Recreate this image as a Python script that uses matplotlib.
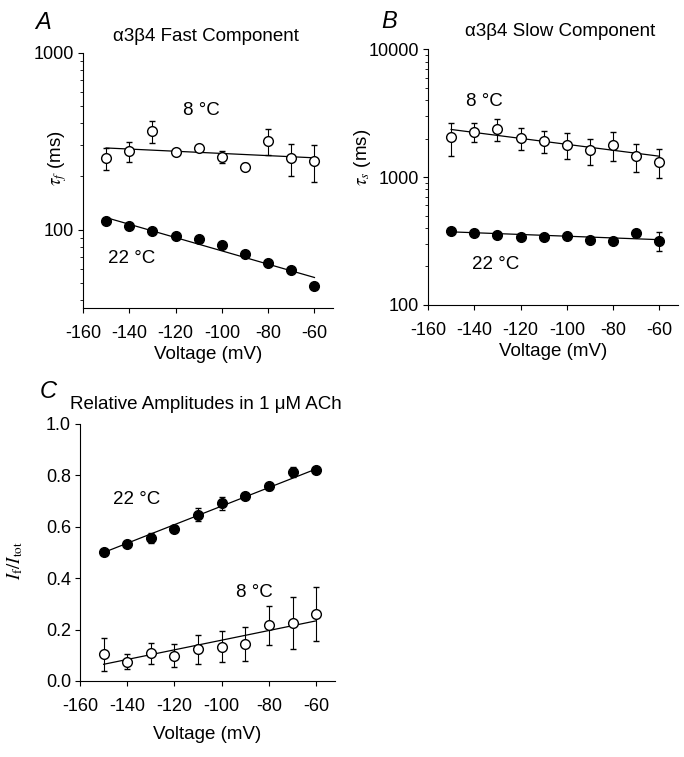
import matplotlib
matplotlib.use("Agg")
import matplotlib.pyplot as plt
from matplotlib import ticker
import numpy as np

plt.rcParams['font.family'] = ['Liberation Sans', 'DejaVu Sans']
plt.rcParams['font.size'] = 13
plt.rcParams['axes.unicode_minus'] = False

voltage = [-150, -140, -130, -120, -110, -100, -90, -80, -70, -60]
fit_v = [-150, -60]

# panel A, fast time constant (ms)
fast_8 = [253, 277, 360, 274, 290, 259, 227, 318, 253, 244]
fast_8_err = [35, 35, 50, 0, 12, 20, 10, 55, 53, 57]
fast_22 = [112, 105, 98.7, 92.5, 88.1, 82.2, 72.8, 64.7, 59.0, 47.9]
fast_8_fit = [290, 255]
fast_22_fit = [117, 53.6]

# panel B, slow time constant (ms)
slow_8 = [2061, 2255, 2370, 2023, 1918, 1796, 1622, 1796, 1455, 1313]
slow_8_err = [600, 380, 450, 400, 380, 420, 370, 450, 350, 330]
slow_22 = [380, 363, 355, 338, 338, 344, 322, 318, 368, 318]
slow_22_err = [0, 0, 0, 0, 0, 0, 0, 0, 0, 55]
slow_8_fit = [2355, 1455]
slow_22_fit = [373, 324]

# panel C, relative amplitude If/Itot
amp_22 = [0.50, 0.532, 0.556, 0.591, 0.647, 0.692, 0.721, 0.757, 0.813, 0.822]
amp_22_err = [0, 0, 0.018, 0, 0.025, 0.025, 0, 0.015, 0.018, 0]
amp_8 = [0.104, 0.075, 0.108, 0.099, 0.123, 0.134, 0.143, 0.216, 0.225, 0.26]
amp_8_err = [0.065, 0.03, 0.04, 0.045, 0.057, 0.06, 0.067, 0.075, 0.1, 0.105]
amp_22_fit = [0.50, 0.825]
amp_8_fit = [0.065, 0.234]

fig = plt.figure(figsize=(6.84, 7.57), dpi=100)
axA = fig.add_axes([0.1213, 0.5931, 0.3655, 0.3369])
axB = fig.add_axes([0.6257, 0.5971, 0.3655, 0.3380])
axC = fig.add_axes([0.1170, 0.1004, 0.3728, 0.3395])


def style(ax, lpad):
    ax.spines['top'].set_visible(False)
    ax.spines['right'].set_visible(False)
    ax.set_xlim(-160, -52)
    ax.set_xticks([-160, -140, -120, -100, -80, -60])
    ax.tick_params(direction='out', length=3.5, width=0.8, labelsize=13, pad=3)
    ax.tick_params(axis='x', pad=9)
    ax.tick_params(which='minor', direction='out', length=2.5, width=0.6)
    ax.set_xlabel("Voltage (mV)", fontsize=13.5, labelpad=lpad)


def series(ax, y, err, filled):
    face = 'black' if filled else 'white'
    ax.errorbar(voltage, y, yerr=err, fmt='o', ms=7, mfc=face, mec='black',
                mew=1, ecolor='black', elinewidth=0.8, capsize=2, zorder=3)


def title(ax, txt, x, y):
    ax.text(x, y, txt, transform=ax.transAxes, fontsize=13.5,
            ha='center', va='center')


# A
style(axA, 2.5)
axA.set_yscale('log')
axA.set_ylim(36, 1000)
axA.set_yticks([100, 1000])
axA.yaxis.set_major_formatter(ticker.FormatStrFormatter('%d'))
axA.yaxis.set_minor_formatter(ticker.NullFormatter())
axA.plot(fit_v, fast_8_fit, color='black', lw=0.9)
axA.plot(fit_v, fast_22_fit, color='black', lw=0.9)
series(axA, fast_8, fast_8_err, False)
series(axA, fast_22, None, True)
axA.set_ylabel(r"$\tau_f$ (ms)", fontsize=13.5, math_fontfamily='stix')
axA.yaxis.set_label_coords(-0.056, 0.588)
title(axA, "α3β4 Fast Component", 0.49, 1.065)
axA.text(-109, 470, "8 °C", fontsize=13.5, ha='center', va='center')
axA.text(-139, 69, "22 °C", fontsize=13.5, ha='center', va='center')
fig.text(0.063, 0.970, "A", fontsize=17, style='italic', ha='center', va='center')

# B
style(axB, 2.5)
axB.set_yscale('log')
axB.set_ylim(100, 10000)
axB.set_yticks([100, 1000, 10000])
axB.yaxis.set_major_formatter(ticker.FormatStrFormatter('%d'))
axB.yaxis.set_minor_formatter(ticker.NullFormatter())
axB.plot(fit_v, slow_8_fit, color='black', lw=0.9)
axB.plot(fit_v, slow_22_fit, color='black', lw=0.9)
series(axB, slow_8, slow_8_err, False)
series(axB, slow_22, slow_22_err, True)
axB.set_ylabel(r"$\tau_s$ (ms)", fontsize=13.5, math_fontfamily='stix')
axB.yaxis.set_label_coords(-0.22, 0.578)
title(axB, "α3β4 Slow Component", 0.528, 1.07)
axB.text(-135.7, 3880, "8 °C", fontsize=13.5, ha='center', va='center')
axB.text(-130.7, 209, "22 °C", fontsize=13.5, ha='center', va='center')
fig.text(0.569, 0.972, "B", fontsize=17, style='italic', ha='center', va='center')

# C
style(axC, 8)
axC.set_ylim(0, 1.0)
axC.set_yticks([0, 0.2, 0.4, 0.6, 0.8, 1.0])
axC.yaxis.set_major_formatter(ticker.FormatStrFormatter('%.1f'))
axC.plot(fit_v, amp_22_fit, color='black', lw=0.9)
axC.plot(fit_v, amp_8_fit, color='black', lw=0.9)
series(axC, amp_22, amp_22_err, True)
series(axC, amp_8, amp_8_err, False)
axC.set_ylabel(r"$I_{\rm f}/I_{\rm tot}$", fontsize=13.5, math_fontfamily='stix')
axC.yaxis.set_label_coords(-0.216, 0.47)
title(axC, "Relative Amplitudes in 1 μM ACh", 0.494, 1.075)
axC.text(-136, 0.705, "22 °C", fontsize=13.5, ha='center', va='center')
axC.text(-86, 0.343, "8 °C", fontsize=13.5, ha='center', va='center')
fig.text(0.070, 0.483, "C", fontsize=17, style='italic', ha='center', va='center')

fig.savefig("out.png", dpi=100)
